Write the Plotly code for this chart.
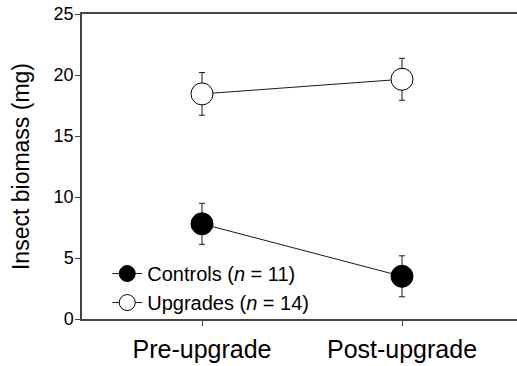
import plotly.graph_objects as go

categories = ["Pre-upgrade", "Post-upgrade"]
controls_mean = [7.8, 3.5]
controls_se = [1.68, 1.68]
upgrades_mean = [18.45, 19.65]
upgrades_se = [1.75, 1.72]
y_ticks = [0, 5, 10, 15, 20, 25]

FONT = "Liberation Sans, Arial, Helvetica, sans-serif"
INK = "#1a1a1a"

fig = go.Figure()
fig.add_trace(go.Scatter(
    x=categories, y=controls_mean, name="Controls (<i>n</i> = 11)",
    mode="lines+markers",
    line=dict(color=INK, width=1),
    marker=dict(size=22, color="black", line=dict(color="black", width=1)),
    error_y=dict(type="data", array=controls_se, visible=True, color=INK, thickness=1, width=3),
))
fig.add_trace(go.Scatter(
    x=categories, y=upgrades_mean, name="Upgrades (<i>n</i> = 14)",
    mode="lines+markers",
    line=dict(color=INK, width=1),
    marker=dict(size=22, color="white", line=dict(color="black", width=1)),
    error_y=dict(type="data", array=upgrades_se, visible=True, color=INK, thickness=1, width=3),
))

fig.update_layout(
    width=517, height=366,
    margin=dict(l=82, r=0, t=14, b=47, autoexpand=False),
    paper_bgcolor="white", plot_bgcolor="white",
    font=dict(family=FONT, color="black"),
    showlegend=True,
    legend=dict(
        x=0.058, y=-0.01, xanchor="left", yanchor="bottom",
        bgcolor="rgba(0,0,0,0)", font=dict(size=20, family=FONT),
        tracegroupgap=0, itemsizing="trace",
    ),
)
fig.update_xaxes(
    type="category", range=[-0.6, 1.575], automargin=False,
    showline=True, linecolor="#444", linewidth=1.5, mirror=True,
    ticks="outside", ticklen=5, tickcolor="#444",
    tickfont=dict(size=25, family=FONT), ticklabelstandoff=2,
    showgrid=False, zeroline=False,
)
fig.update_yaxes(
    range=[0, 25], tickvals=y_ticks, automargin=False,
    showline=True, linecolor="#444", linewidth=1.5, mirror=False,
    ticks="outside", ticklen=5, tickcolor="#444",
    tickfont=dict(size=18, family=FONT), ticklabelstandoff=-2,
    title=dict(text="Insect biomass (mg)", font=dict(size=23, family=FONT), standoff=18),
    showgrid=False, zeroline=False,
)

fig.write_html(
    "out.html",
    config={"displayModeBar": False},
    post_script="document.body.style.margin='0';document.body.style.padding='0';",
)
